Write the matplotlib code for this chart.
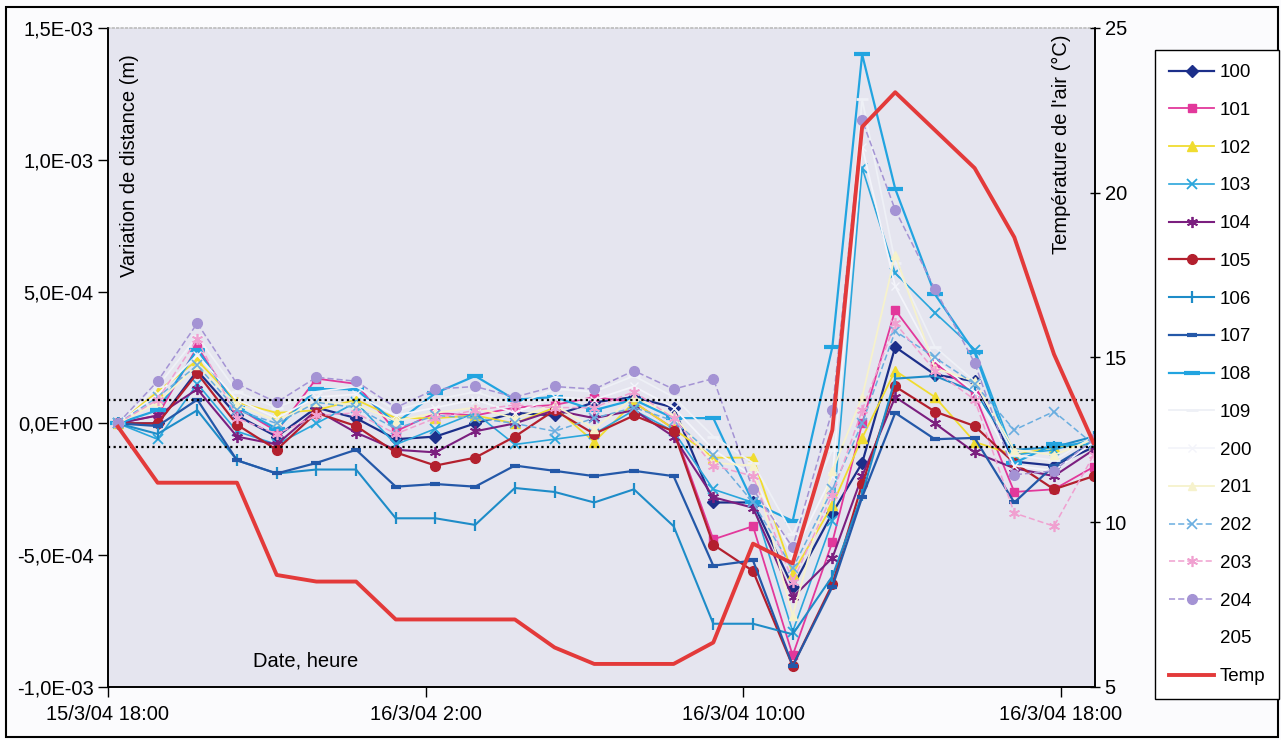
import pandas as pd
import matplotlib
matplotlib.use("Agg")
import matplotlib.pyplot as plt
from matplotlib.patches import Rectangle

# measurement times
times = pd.to_datetime([
	"2004-03-15 18:15", "2004-03-15 19:15", "2004-03-15 20:15", "2004-03-15 21:15",
	"2004-03-15 22:15", "2004-03-15 23:15", "2004-03-16 00:15", "2004-03-16 01:15",
	"2004-03-16 02:15", "2004-03-16 03:15", "2004-03-16 04:15", "2004-03-16 05:15",
	"2004-03-16 06:15", "2004-03-16 07:15", "2004-03-16 08:15", "2004-03-16 09:15",
	"2004-03-16 10:15", "2004-03-16 11:15", "2004-03-16 12:15", "2004-03-16 13:00",
	"2004-03-16 13:50", "2004-03-16 14:50", "2004-03-16 15:50", "2004-03-16 16:50",
	"2004-03-16 17:50", "2004-03-16 18:50"])

# distance variations, in 1E-4 m
s100 = [0, 0.0, 2.0, 0.3, -0.5, 0.6, 0.2, -0.6, -0.5, 0.0, 0.4, 0.3, 0.8, 1.0, 0.6, -3.0, -3.0, -6.2, -3.4, -1.5, 2.9, 1.85, 1.6, -1.45, -1.6, -0.9]
s101 = [0, 0.3, 2.9, 0.6, -0.3, 1.7, 1.5, -0.3, 0.4, 0.3, 0.6, 0.7, 1.0, 0.8, -0.2, -4.4, -3.9, -8.8, -4.5, 0.0, 4.3, 2.3, 1.1, -2.6, -2.5, -1.65]
s102 = [0, 1.2, 2.4, 0.8, 0.4, 0.5, 0.9, 0.2, 0.2, 0.3, 0.0, 0.6, -0.7, 0.8, -0.2, -1.3, -1.3, -5.7, -3.1, -0.55, 2.0, 1.0, -0.7, -1.2, -0.9, -0.8]
s103 = [0, -0.6, 1.5, -0.3, -0.8, 0.0, 0.8, -0.8, -0.2, 0.4, -0.8, -0.6, -0.4, 0.5, -0.3, -2.5, -3.0, -7.9, -3.7, 9.7, 5.7, 4.2, 2.8, -1.2, -1.0, -0.6]
s104 = [0, 0.3, 1.3, -0.5, -0.8, 0.5, -0.35, -1.0, -1.1, -0.3, 0.0, 0.5, 0.2, 0.5, -0.5, -2.8, -3.2, -6.6, -5.1, -2.0, 1.0, 0.0, -1.1, -1.7, -2.0, -1.0]
s105 = [0, 0.0, 1.9, -0.05, -1.0, 0.4, -0.1, -1.1, -1.6, -1.3, -0.5, 0.5, -0.4, 0.3, -0.3, -4.6, -5.6, -9.2, -6.1, -2.3, 1.4, 0.45, -0.1, -1.5, -2.5, -2.0]
s106 = [0, -0.4, 0.5, -1.4, -1.9, -1.75, -1.75, -3.6, -3.6, -3.85, -2.45, -2.6, -3.0, -2.5, -3.9, -7.6, -7.6, -8.0, -5.8, -2.7, 1.7, 1.8, 1.2, -1.0, -0.9, -0.5]
s107 = [0, -0.1, 0.9, -1.4, -1.9, -1.5, -1.0, -2.4, -2.3, -2.4, -1.6, -1.8, -2.0, -1.8, -2.0, -5.4, -5.2, -9.2, -6.2, -2.8, 0.4, -0.6, -0.55, -3.0, -1.6, -0.7]
s108 = [0, 0.5, 2.8, 0.6, -0.2, 1.3, 1.3, 0.0, 1.15, 1.8, 0.9, 1.0, 0.5, 0.9, 0.2, 0.2, -3.0, -3.7, 2.9, 14.0, 8.9, 4.9, 2.7, -1.5, -0.8, -0.8]
s109 = [0, 1.4, 3.3, 1.2, 0.6, 1.2, 1.4, 0.5, 0.9, 1.2, 0.7, 1.3, 1.2, 1.8, 1.0, -0.5, -1.5, -4.2, -1.0, 12.3, 6.1, 2.9, 1.6, -1.2, -1.4, -0.5]
s200 = [0, 1.1, 2.6, 0.9, 0.2, 1.0, 1.1, 0.3, 0.6, 0.9, 0.4, 1.0, 0.9, 1.4, 0.6, -1.0, -2.0, -5.0, -2.0, 10.5, 5.2, 2.4, 1.2, -1.6, -1.8, -0.7]
s201 = [0, 0.8, 2.2, 0.7, 0.1, 0.8, 0.7, 0.1, 0.4, 0.6, 0.2, 0.7, -0.2, 1.0, 0.3, -1.5, -1.6, -7.3, -1.8, 1.0, 6.4, 2.1, 1.6, -1.0, -1.2, -0.6]
s202 = [0, 1.0, 2.2, 0.5, 0.0, 0.8, 0.6, -0.2, 0.3, 0.2, 0.0, -0.3, 0.2, 0.6, 0.1, -1.2, -3.0, -5.5, -2.5, 0.0, 3.5, 2.5, 1.5, -0.25, 0.45, -0.8]
s203 = [0, 0.9, 3.2, 0.2, -0.4, 0.3, 0.4, -0.4, 0.2, 0.5, 0.7, 0.6, 0.6, 1.2, 0.2, -1.6, -2.0, -6.0, -2.7, 0.5, 3.8, 2.0, 0.9, -3.4, -3.9, -1.2]
s204 = [0, 1.6, 3.8, 1.5, 0.8, 1.75, 1.6, 0.6, 1.3, 1.4, 1.0, 1.4, 1.3, 2.0, 1.3, 1.7, -2.5, -4.7, 0.5, 11.5, 8.1, 5.1, 2.3, -1.95, -1.8, -0.6]
s205 = [float("nan")] * 26

# air temperature, degC
temp = [12.9, 11.2, 11.2, 11.2, 8.4, 8.2, 8.2, 7.05, 7.05, 7.05, 7.05, 6.2, 5.7, 5.7, 5.7, 6.35, 9.35, 8.75, 12.8, 22.0, 23.05, 21.9, 20.75, 18.65, 15.1, 12.4]

limit = 0.9  # dotted band, 1E-4 m

names = ["100", "101", "102", "103", "104", "105", "106", "107", "108", "109",
	"200", "201", "202", "203", "204", "205"]
values = [s100, s101, s102, s103, s104, s105, s106, s107, s108, s109,
	s200, s201, s202, s203, s204, s205]

yticks = [-1.0e-3, -5.0e-4, 0.0, 5.0e-4, 1.0e-3, 1.5e-3]
ylabels = ["-1,0E-03", "-5,0E-04", "0,0E+00", "5,0E-04", "1,0E-03", "1,5E-03"]
ttemp = [5, 10, 15, 20, 25]
xticks = pd.to_datetime(["2004-03-15 18:00", "2004-03-16 02:00", "2004-03-16 10:00", "2004-03-16 18:00"])
xlabels = ["15/3/04 18:00", "16/3/04 2:00", "16/3/04 10:00", "16/3/04 18:00"]

asterisk = (6, 2, 0)
styles = {
	"100": dict(color="#1c2f8a", marker="D", ms=6, ls="-", lw=1.6),
	"101": dict(color="#e2389b", marker="s", ms=6, ls="-", lw=1.3),
	"102": dict(color="#f0dc30", marker="^", ms=7, ls="-", lw=1.3),
	"103": dict(color="#2aa6dc", marker="x", ms=7, mew=1.3, ls="-", lw=1.2),
	"104": dict(color="#7b1f7f", marker=asterisk, ms=8, mew=1.3, ls="-", lw=1.5),
	"105": dict(color="#b3202e", marker="o", ms=7, ls="-", lw=1.6),
	"106": dict(color="#1e8cc8", marker="|", ms=9, mew=1.6, ls="-", lw=1.5),
	"107": dict(color="#2458a8", marker="_", ms=7, mew=3, ls="-", lw=1.6),
	"108": dict(color="#22a4e0", marker="_", ms=11, mew=3, ls="-", lw=1.6),
	"109": dict(color="#eef0f6", marker="_", ms=8, mew=2, ls="-", lw=1.3),
	"200": dict(color="#f3f4fa", marker="x", ms=6, ls="-", lw=1.3),
	"201": dict(color="#f6f2cc", marker="^", ms=6, ls="-", lw=1.3),
	"202": dict(color="#6aaee0", marker="x", ms=7, mew=1.2, ls=(0, (4, 2)), lw=1.1),
	"203": dict(color="#f0a0d0", marker=asterisk, ms=8, mew=1.2, ls=(0, (4, 2)), lw=1.1),
	"204": dict(color="#a493d4", marker="o", ms=7, ls=(0, (4, 2)), lw=1.1),
	"205": dict(color="none", marker="none", ls="none"),
}

plt.rcParams["font.family"] = ["Liberation Sans", "DejaVu Sans"]
fs = 14.5

fig = plt.figure(figsize=(12.81, 7.40), dpi=100)
fig.patch.set_facecolor("#fbfbfd")
ax = fig.add_axes([108 / 1281, 1 - 687 / 740, (1095 - 108) / 1281, (687 - 28) / 740])
ax.set_facecolor("#e5e5ef")

handles = []
for name, vals in zip(names, values):
	st = styles[name]
	line, = ax.plot(times, [v * 1e-4 for v in vals], label=name, **st)
	handles.append(line)

ax.axhline(limit * 1e-4, color="black", ls=(0, (1, 1.5)), lw=1.6)
ax.axhline(-limit * 1e-4, color="black", ls=(0, (1, 1.5)), lw=1.6)

ax.set_ylim(-1.0e-3, 1.5e-3)
ax.set_yticks(yticks)
ax.set_yticklabels(ylabels)
ax.set_xlim(pd.Timestamp("2004-03-15 18:00"), pd.Timestamp("2004-03-16 18:52"))
ax.set_xticks(xticks)
ax.set_xticklabels(xlabels)
ax.tick_params(axis="both", labelsize=fs, length=7, width=1, direction="out")
ax.tick_params(axis="x", pad=6)

ax2 = ax.twinx()
tline, = ax2.plot(times, temp, color="#e33a3a", lw=2.8, label="Temp")
handles.append(tline)
ax2.set_ylim(5, 25)
ax2.set_yticks(ttemp)
ax2.tick_params(axis="y", labelsize=fs, length=7, width=1, direction="inout")

for a in (ax, ax2):
	for sp in a.spines.values():
		sp.set_linewidth(1.2)
ax2.spines["top"].set_visible(False)
ax.spines["top"].set_color("#bbbbbb")
ax.spines["top"].set_linestyle(":")

ax.text(0.022, 0.96, "Variation de distance (m)", transform=ax.transAxes, rotation=90,
	ha="center", va="top", fontsize=fs)
ax.text(0.966, 0.99, "Température de l'air (°C)", transform=ax.transAxes, rotation=90,
	ha="center", va="top", fontsize=fs)
ax.text(0.147, 0.04, "Date, heure", transform=ax.transAxes, ha="left", va="center", fontsize=fs)

fig.legend(handles=handles, labels=names + ["Temp"], loc="upper left",
	bbox_to_anchor=(1155 / 1281, 1 - 50 / 740), fontsize=13.5, frameon=True,
	fancybox=False, edgecolor="black", facecolor="white", framealpha=1,
	handlelength=2.4, labelspacing=1.1, borderpad=0.75, handletextpad=0.3,
	borderaxespad=0)

fig.add_artist(Rectangle((6 / 1281, 3 / 740), 1 - 9 / 1281, 1 - 10 / 740,
	transform=fig.transFigure, fill=False, edgecolor="black", lw=1.5))

fig.savefig("out.png", dpi=100, facecolor=fig.get_facecolor())
